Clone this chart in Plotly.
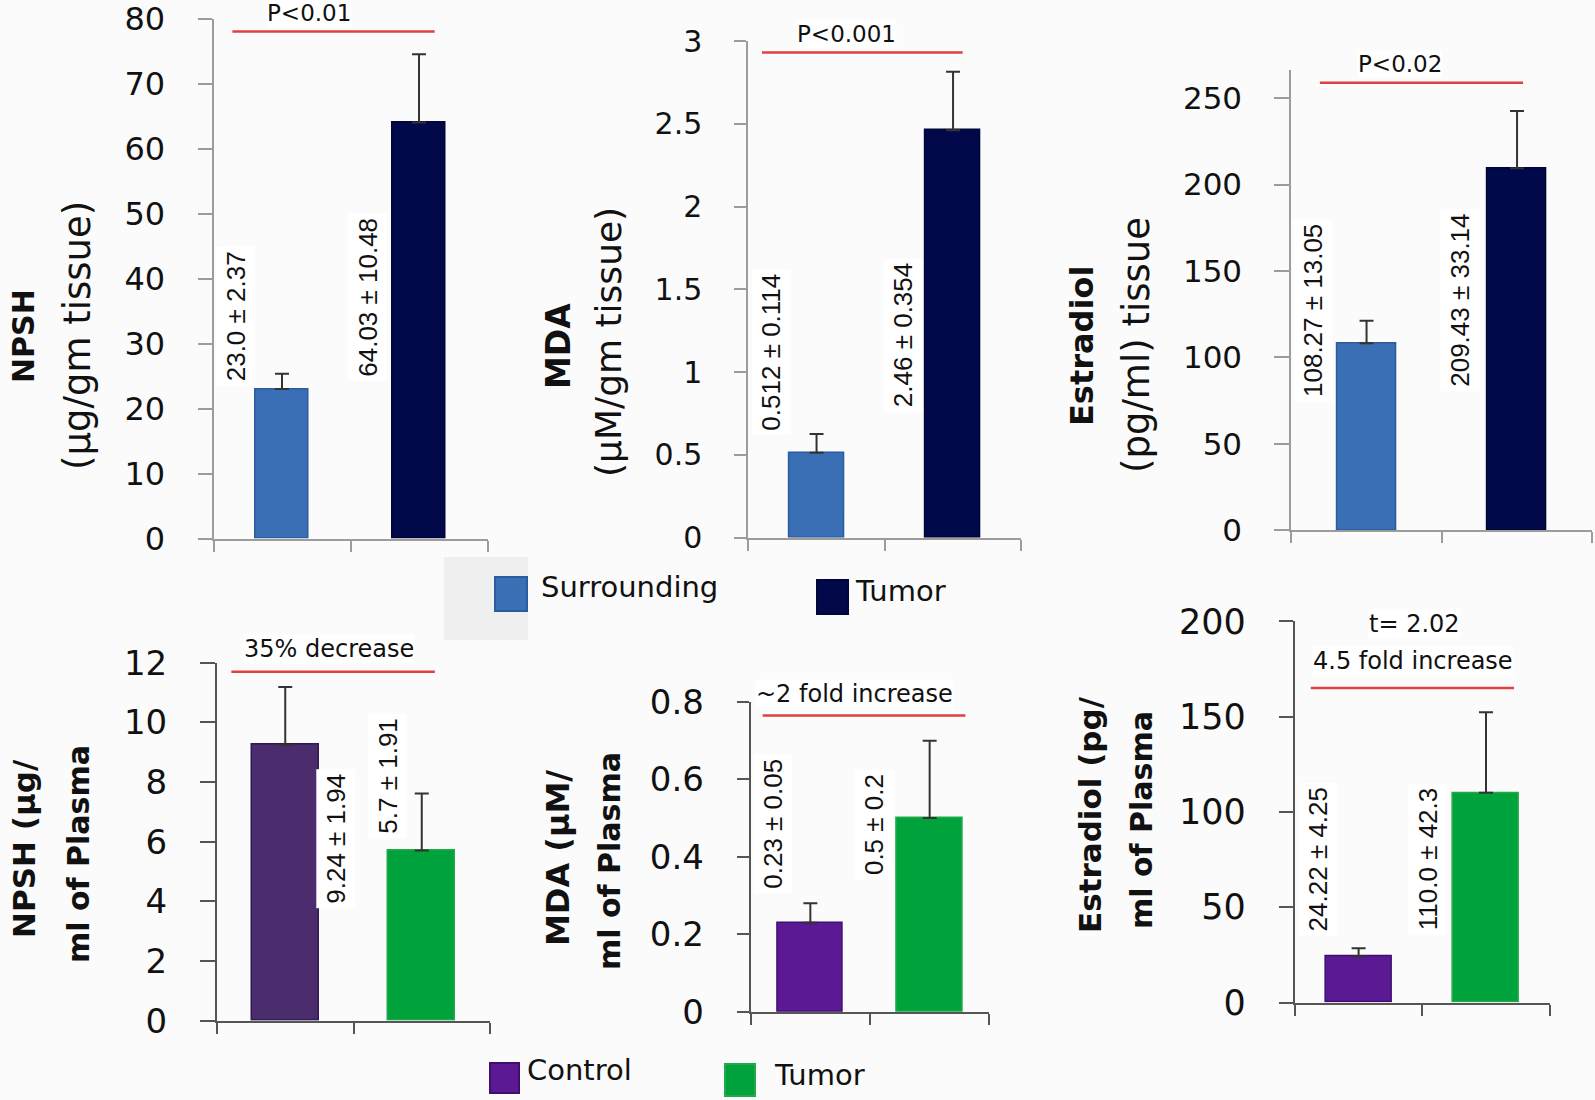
import plotly.graph_objects as go

W, H = 1595, 1100

# ---------------- data ----------------
tissue_groups = ["Surrounding", "Tumor"]
plasma_groups = ["Control", "Tumor"]

npsh_tissue = [23.0, 64.03]
npsh_tissue_err = [2.37, 10.48]
mda_tissue = [0.512, 2.46]
mda_tissue_err = [0.114, 0.354]
estr_tissue = [108.27, 209.43]
estr_tissue_err = [13.05, 33.14]

npsh_plasma = [9.24, 5.7]
npsh_plasma_err = [1.94, 1.91]
mda_plasma = [0.23, 0.5]
mda_plasma_err = [0.05, 0.2]
estr_plasma = [24.22, 110.0]
estr_plasma_err = [4.25, 42.3]

ticks_npsh_tissue = [0, 10, 20, 30, 40, 50, 60, 70, 80]
ticks_mda_tissue = [0, 0.5, 1, 1.5, 2, 2.5, 3]
ticks_estr_tissue = [0, 50, 100, 150, 200, 250]
ticks_npsh_plasma = [0, 2, 4, 6, 8, 10, 12]
ticks_mda_plasma = [0, 0.2, 0.4, 0.6, 0.8]
ticks_estr_plasma = [0, 50, 100, 150, 200]

stat_texts = ["P<0.01", "P<0.001", "P<0.02", "35% decrease", "~2 fold increase", "t= 2.02", "4.5 fold increase"]

# colours
C_SURR, C_SURR_L = "#3A6EB5", "#2B5C9E"
C_TUM, C_TUM_L = "#01094A", "#000636"
C_CTRL_DARK, C_CTRL_DARK_L = "#4B2C6C", "#2F1A52"
C_CTRL, C_CTRL_L = "#5B1A93", "#3D0F6E"
C_GREEN, C_GREEN_L = "#00A23B", "#22AA4A"
RED = "#E04040"

FONT_SANS = "'DejaVu Sans', Verdana, sans-serif"
FONT_LBL = "'Liberation Sans', Arial, sans-serif"


def px(x):
    return x / W


def py(y):
    return 1 - y / H


panels = [
    dict(vals=npsh_tissue, err=npsh_tissue_err, colors=[C_SURR, C_TUM], lines=[C_SURR_L, C_TUM_L],
         xd=(213.5, 487.5), yd=(18.6, 538.6), yr=(0, 80), ticks=ticks_npsh_tissue, bw=0.39,
         axis="#9C9C9C", tfs=32, tlen=14,
         labels=[(0.164, 34.2), (1.13, 37.1)],
         red=(0.138, 1.614, 78.0), stats=[(stat_texts[0], 0.70, 80.9, 23, FONT_SANS)],
         t1=("<b>NPSH</b>", 24, 336, 30), t2=("(µg/gm tissue)", 78, 336, 37)),
    dict(vals=mda_tissue, err=mda_tissue_err, colors=[C_SURR, C_TUM], lines=[C_SURR_L, C_TUM_L],
         xd=(748.3, 1021.3), yd=(41, 537.5), yr=(0, 3), ticks=ticks_mda_tissue, bw=0.40,
         axis="#9C9C9C", tfs=30, tlen=12,
         labels=[(0.17, 1.12), (1.13, 1.22)],
         red=(0.10, 1.57, 2.93), stats=[(stat_texts[1], 0.72, 3.04, 23, FONT_SANS)],
         t1=("<b>MDA</b>", 558, 346, 33), t2=("(µM/gm tissue)", 608, 342, 36)),
    dict(vals=estr_tissue, err=estr_tissue_err, colors=[C_SURR, C_TUM], lines=[C_SURR_L, C_TUM_L],
         xd=(1291.3, 1592.3), yd=(69.6, 530.4), yr=(0, 266.5), ticks=ticks_estr_tissue, bw=0.395,
         axis="#9C9C9C", tfs=31, tlen=15,
         labels=[(0.14, 127.1), (1.12, 133.3)],
         red=(0.19, 1.54, 258.9), stats=[(stat_texts[2], 0.72, 270, 23, FONT_SANS)],
         t1=("<b>Estradiol</b>", 1082, 346, 32), t2=("(pg/ml) tissue", 1136, 345, 37)),
    dict(vals=npsh_plasma, err=npsh_plasma_err, colors=[C_CTRL_DARK, C_GREEN], lines=[C_CTRL_DARK_L, C_GREEN_L],
         xd=(217, 490), yd=(662.6, 1020.7), yr=(0, 12), ticks=ticks_npsh_plasma, bw=0.49,
         axis="#555555", tfs=34, tlen=15,
         labels=[(0.87, 6.09), (1.25, 8.2)],
         red=(0.105, 1.596, 11.69), stats=[(stat_texts[3], 0.82, 12.46, 24, FONT_SANS)],
         t1=("<b>NPSH (µg/</b>", 24, 849, 31), t2=("<b>ml of Plasma</b>", 78, 854, 30)),
    dict(vals=mda_plasma, err=mda_plasma_err, colors=[C_CTRL, C_GREEN], lines=[C_CTRL_L, C_GREEN_L],
         xd=(750.7, 989.3), yd=(701.9, 1011.8), yr=(0, 0.8), ticks=ticks_mda_plasma, bw=0.55,
         axis="#555555", tfs=34, tlen=12,
         labels=[(0.18, 0.486), (1.04, 0.484)],
         red=(0.10, 1.80, 0.765), stats=[(stat_texts[4], 0.87, 0.821, 24, FONT_SANS)],
         t1=("<b>MDA (µM/</b>", 558, 858, 32), t2=("<b>ml of Plasma</b>", 609, 861, 30)),
    dict(vals=estr_plasma, err=estr_plasma_err, colors=[C_CTRL, C_GREEN], lines=[C_CTRL_L, C_GREEN_L],
         xd=(1294.9, 1549.7), yd=(621.3, 1002.5), yr=(0, 200), ticks=ticks_estr_plasma, bw=0.52,
         axis="#555555", tfs=35, tlen=14,
         labels=[(0.18, 75.0), (1.04, 75.4)],
         red=(0.125, 1.72, 165.0),
         stats=[(stat_texts[5], 0.94, 198.7, 24, FONT_SANS), (stat_texts[6], 0.93, 179.4, 24, FONT_SANS)],
         t1=("<b>Estradiol (pg/</b>", 1090, 815, 31), t2=("<b>ml of Plasma</b>", 1141, 820, 30)),
]

fig = go.Figure()
layout = dict(width=W, height=H, margin=dict(l=0, r=0, t=0, b=0, pad=0), autosize=False,
              paper_bgcolor="#FBFBFB", plot_bgcolor="rgba(0,0,0,0)", showlegend=False,
              bargap=0, template="none")
shapes, annotations = [], []


def fmt(v):
    s = f"{v:g}"
    return s if v != int(v) else f"{v:.1f}"


def to_paper(p, x, y):
    """axis (category units, data value) -> paper coordinates"""
    x_px = p["xd"][0] + (x / 2.0) * (p["xd"][1] - p["xd"][0])
    y_px = p["yd"][1] - (y - p["yr"][0]) / (p["yr"][1] - p["yr"][0]) * (p["yd"][1] - p["yd"][0])
    return px(x_px), py(y_px)


for i, p in enumerate(panels):
    n = "" if i == 0 else str(i + 1)
    xa, ya = "x" + n, "y" + n
    fig.add_trace(go.Bar(
        x=[0.5, 1.5], y=p["vals"], width=p["bw"], xaxis=xa, yaxis=ya,
        marker=dict(color=p["colors"], line=dict(color=p["lines"], width=1.5)),
        error_y=dict(type="data", array=p["err"], arrayminus=[0, 0], symmetric=False,
                     color="#333333", thickness=2, width=7),
    ))
    layout["xaxis" + n] = dict(domain=[px(p["xd"][0]), px(p["xd"][1])], anchor=ya, range=[0, 2],
                               tickvals=[0, 1, 2], ticks="outside", ticklen=11, tickwidth=2,
                               tickcolor=p["axis"], showticklabels=False, showline=True,
                               linecolor=p["axis"], linewidth=2, showgrid=False, zeroline=False,
                               automargin=False, fixedrange=True)
    layout["yaxis" + n] = dict(domain=[py(p["yd"][1]), py(p["yd"][0])], anchor=xa, range=list(p["yr"]),
                               tickvals=p["ticks"], ticktext=[f"{t:g}" for t in p["ticks"]],
                               ticks="outside", ticklen=p["tlen"], tickwidth=2, tickcolor=p["axis"],
                               showline=True, linecolor=p["axis"], linewidth=2, showgrid=False,
                               zeroline=False, ticklabelstandoff=26, automargin=False,
                               ticklabeloverflow="allow", fixedrange=True,
                               tickfont=dict(family=FONT_SANS, size=p["tfs"], color="#111111"))
    # red significance line
    x0, x1, yl = p["red"]
    shapes.append(dict(type="line", xref=xa, yref=ya, x0=x0, x1=x1, y0=yl, y1=yl,
                       line=dict(color=RED, width=2.5)))
    for txt, tx, ty, fs, fam in p["stats"]:
        ax_, ay_ = to_paper(p, tx, ty)
        annotations.append(dict(text=txt, xref="paper", yref="paper", x=ax_, y=ay_, showarrow=False,
                                xanchor="center", yanchor="middle", bgcolor="white", borderpad=0,
                                font=dict(family=fam, size=fs, color="#111111")))
    # value labels (rotated)
    for (lx, ly), v, e in zip(p["labels"], p["vals"], p["err"]):
        annotations.append(dict(text=f"{fmt(v)} ± {fmt(e)}", xref=xa, yref=ya, x=lx, y=ly,
                                textangle=-90, showarrow=False, xanchor="center", yanchor="middle",
                                bgcolor="white", borderpad=4,
                                font=dict(family=FONT_LBL, size=26, color="#111111")))
    # y titles
    for (t, tx, ty, fs) in (p["t1"], p["t2"]):
        annotations.append(dict(text=t, xref="paper", yref="paper", x=px(tx), y=py(ty),
                                textangle=-90, showarrow=False, xanchor="center", yanchor="middle",
                                font=dict(family=FONT_SANS, size=fs, color="#111111")))

# legends (paper coordinates)
shapes.append(dict(type="rect", xref="paper", yref="paper", x0=px(444), x1=px(528), y0=py(640), y1=py(557),
                   fillcolor="#EFEFEF", line=dict(width=0), layer="below"))
legend_items = [
    (tissue_groups[0], C_SURR, C_SURR_L, (495, 527, 577, 611), 539, 587),
    (tissue_groups[1], C_TUM, C_TUM_L, (817, 848, 580, 614), 853, 591),
    (plasma_groups[0], C_CTRL, C_CTRL_L, (490, 519, 1063, 1093), 525, 1070),
    (plasma_groups[1], C_GREEN, C_GREEN_L, (725, 755, 1064, 1096), 772, 1075),
]
for name, col, lcol, (a, b, c, d), tx, ty in legend_items:
    shapes.append(dict(type="rect", xref="paper", yref="paper", x0=px(a), x1=px(b), y0=py(d), y1=py(c),
                       fillcolor=col, line=dict(color=lcol, width=2)))
    annotations.append(dict(text=name, xref="paper", yref="paper", x=px(tx), y=py(ty), showarrow=False,
                            xanchor="left", yanchor="middle",
                            font=dict(family=FONT_SANS, size=29, color="#111111")))

layout["shapes"] = shapes
layout["annotations"] = annotations
fig.update_layout(**layout)
fig.write_html("out.html", config={"displayModeBar": False},
               post_script="document.body.style.margin='0';")
